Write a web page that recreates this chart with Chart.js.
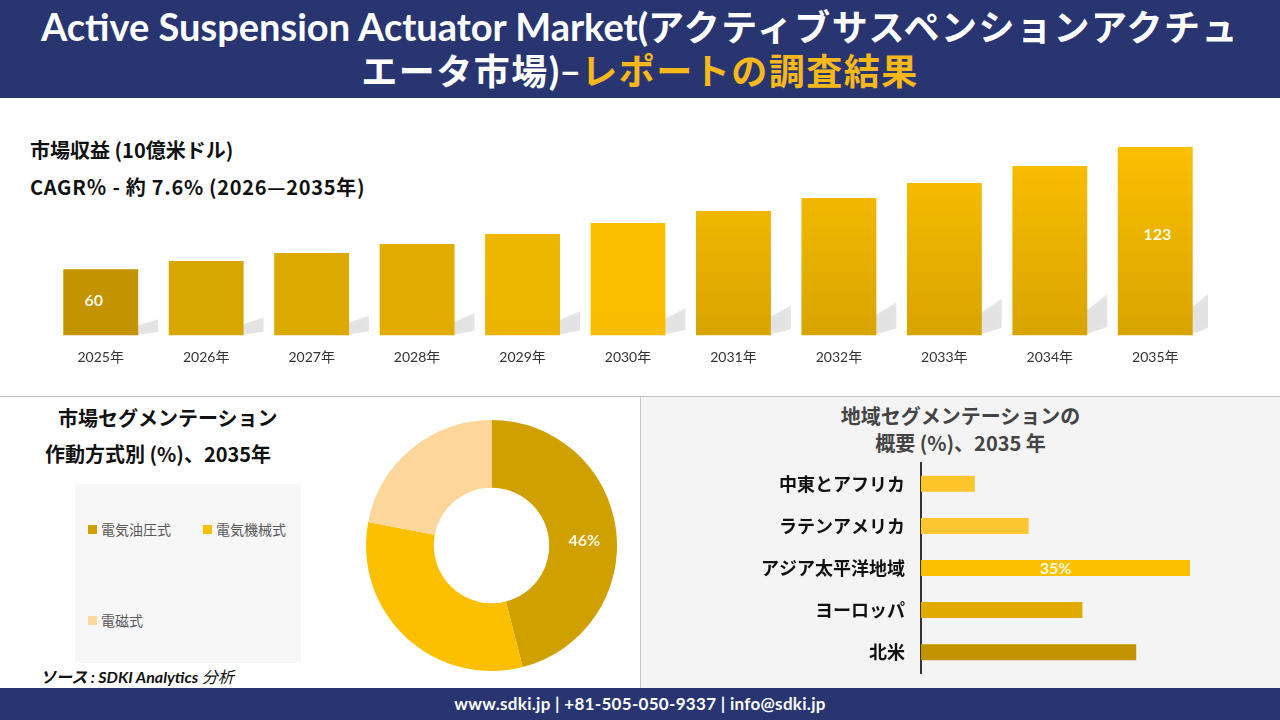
<!DOCTYPE html>
<html>
<head>
<meta charset="utf-8">
<script src="https://cdn.jsdelivr.net/npm/chart.js@4/dist/chart.umd.min.js"></script>
<style>
  body { margin: 0; width: 1280px; height: 720px; position: relative; overflow: hidden; background: #fff; font-family: Lato, 'Noto Sans CJK JP', sans-serif; }
  .abs { position: absolute; }
  #header { left: 0; top: 0; width: 1280px; height: 98px; background: #283571; color: #fff; text-align: center; font-weight: 700; font-size: 36px; line-height: 43px; padding-top: 5px; box-sizing: border-box; letter-spacing: 1.5px; }
  #header .lat { font-size: 38px; letter-spacing: 0; }
  #header .hl { color: #f6b81a; }
  #footer { left: 0; top: 688px; width: 1280px; height: 32px; background: #283571; color: #fff; text-align: center; font-weight: 700; font-size: 17px; letter-spacing: 0.3px; line-height: 32px; }
  .h1 { font-weight: 700; font-size: 20px; color: #111; font-family: 'Noto Sans CJK JP', sans-serif; }
  #sep { left: 0; top: 396px; width: 1280px; height: 1px; background: #bdbdbd; }
  #rpanel { left: 640px; top: 397px; width: 640px; height: 291px; background: #f4f4f4; border-left: 1px solid #c8c8c8; }
  #legendBox { left: 75px; top: 484px; width: 226px; height: 179px; background: #f7f7f7; }
  .lg { font-size: 14px; color: #595959; white-space: nowrap; }
  .lg span { display: inline-block; width: 9px; height: 9px; margin-right: 4px; vertical-align: 1px; }
</style>
</head>
<body>
<div id="header" class="abs"><span class="lat">Active Suspension Actuator Market(</span>アクティブサスペンションアクチュ<br>エータ市場<span class="lat">)–</span><span class="hl">レポートの調査結果</span></div>

<div class="abs h1" style="left:30px; top:135px;">市場収益 (10億米ドル)</div>
<div class="abs h1" style="left:30px; top:172px; letter-spacing:0.7px;">CAGR％ - 約 7.6% (2026—2035年)</div>

<div style="position:absolute; left:48px; top:140px; width:1160px; height:232px;"><canvas id="revenue"></canvas></div>

<div id="sep" class="abs"></div>
<div id="rpanel" class="abs"></div>

<div class="abs h1" style="left:58px; top:403px;">市場セグメンテーション</div>
<div class="abs h1" style="left:45px; top:439px;">作動方式別 (%)、2035年</div>
<div id="legendBox" class="abs"></div>
<div id="legendItems"></div>
<div style="position:absolute; left:366px; top:420px; width:251px; height:251px;"><canvas id="segment"></canvas></div>
<div class="abs" style="left:40px; top:664px; font-size:16px; font-style:italic; font-weight:700; color:#111;">ソース : SDKI Analytics <span style="font-weight:400">分析</span></div>

<div class="abs" style="left:641px; top:402px; width:639px; text-align:center; font-size:20px; font-weight:700; color:#444; line-height:27px; font-family:'Noto Sans CJK JP', sans-serif;">地域セグメンテーションの<br>概要 (%)、2035 年</div>
<div style="position:absolute; left:730px; top:444px; width:510px; height:248px;"><canvas id="region"></canvas></div>

<div id="footer" class="abs">www.sdki.jp | +81-505-050-9337 | info@sdki.jp</div>

<script>
// market revenue, USD billion
const years = ['2025年', '2026年', '2027年', '2028年', '2029年', '2030年', '2031年', '2032年', '2033年', '2034年', '2035年'];
const revenue = [60, 64.2, 68.3, 73, 78.1, 83.8, 90, 96.7, 104.5, 113.2, 123];
const revenueLabelled = [0, 10];

// segment by actuation type, 2035
const segmentNames = ['電気油圧式', '電気機械式', '電磁式'];
const segmentShare = [46, 32, 22];

// regional share, 2035
const regions = ['中東とアフリカ', 'ラテンアメリカ', 'アジア太平洋地域', 'ヨーロッパ', '北米'];
const regionShare = [7, 14, 35, 21, 28];

const barTop = ['#c39400', '#d8a600', '#dca900', '#e2ad00', '#f2b900', '#fdc000', '#fdc000', '#fdc000', '#fdc000', '#fdc000', '#fdc000'];
const barBottom = ['#c39400', '#d8a600', '#dca900', '#e2ad00', '#ecb400', '#f9bc00', '#d8a400', '#d8a400', '#d8a400', '#d8a400', '#d8a400'];
const segmentColors = ['#d09f00', '#fcc000', '#fdd69c'];
const regionColors = ['#fcc52a', '#fcc630', '#fcc000', '#e0aa00', '#c29300'];

const fontCJK = "Lato, 'Noto Sans CJK JP', sans-serif";

// soft shadow behind each revenue bar
const barShadow = {
  id: 'barShadow',
  beforeDatasetsDraw(chart) {
    const ctx = chart.ctx;
    const bottom = chart.chartArea.bottom;
    ctx.save();
    ctx.fillStyle = 'rgba(0,0,0,0.1)';
    ctx.shadowColor = 'rgba(0,0,0,0.18)';
    ctx.shadowBlur = 10;
    chart.getDatasetMeta(0).data.forEach(bar => {
      const right = bar.x + bar.width / 2;
      const s = (bottom - bar.y) * 0.24;
      const d = 20;
      ctx.beginPath();
      ctx.moveTo(right - 4, bottom);
      ctx.lineTo(right - 4, bottom - s * 0.55);
      ctx.lineTo(right + d, bottom - s);
      ctx.lineTo(right + d, bottom - s * 0.2);
      ctx.closePath();
      ctx.fill();
    });
    ctx.restore();
  }
};

const revenueLabels = {
  id: 'revenueLabels',
  afterDatasetsDraw(chart) {
    const ctx = chart.ctx;
    const meta = chart.getDatasetMeta(0);
    const bottom = chart.chartArea.bottom;
    ctx.save();
    ctx.fillStyle = '#fffbe6';
    ctx.font = "700 16px " + fontCJK;
    ctx.textAlign = 'center';
    ctx.textBaseline = 'middle';
    revenueLabelled.forEach(i => {
      const bar = meta.data[i];
      ctx.fillText(String(revenue[i]), bar.x - (i === 0 ? 7 : -2), (bar.y + bottom) / 2 - (i === 0 ? 1 : 6));
    });
    ctx.restore();
  }
};

new Chart(document.getElementById('revenue'), {
  type: 'bar',
  data: {
    labels: years,
    datasets: [{
      data: revenue,
      backgroundColor: (c) => {
        const area = c.chart.chartArea;
        if (!area) return barTop[c.dataIndex];
        const g = c.chart.ctx.createLinearGradient(0, area.top, 0, area.bottom);
        g.addColorStop(0, barTop[c.dataIndex]);
        g.addColorStop(1, barBottom[c.dataIndex]);
        return g;
      },
      borderWidth: 0,
      categoryPercentage: 1,
      barPercentage: 0.71
    }]
  },
  options: {
    responsive: true,
    maintainAspectRatio: false,
    animation: false,
    layout: { padding: 0 },
    plugins: { legend: { display: false }, tooltip: { enabled: false } },
    scales: {
      x: {
        grid: { display: false },
        border: { display: false },
        ticks: { color: '#333', font: { size: 14, family: fontCJK }, padding: 6 }
      },
      y: {
        display: false,
        min: 26,
        max: 126.6
      }
    }
  },
  plugins: [barShadow, revenueLabels]
});

// legend for the doughnut, built from the arrays
const legendPos = [[88, 519], [203, 519], [88, 610]];
document.getElementById('legendItems').innerHTML = segmentNames.map((n, i) =>
  `<div class="abs lg" style="left:${legendPos[i][0]}px; top:${legendPos[i][1]}px;"><span style="background:${segmentColors[i]}"></span>${n}</div>`
).join('');

const segmentLabel = {
  id: 'segmentLabel',
  afterDatasetsDraw(chart) {
    const ctx = chart.ctx;
    const arc = chart.getDatasetMeta(0).data[0];
    const mid = (arc.startAngle + arc.endAngle) / 2;
    const r = (arc.innerRadius + arc.outerRadius) / 2;
    ctx.save();
    ctx.fillStyle = '#fffbe6';
    ctx.font = "700 16px " + fontCJK;
    ctx.textAlign = 'center';
    ctx.textBaseline = 'middle';
    ctx.fillText(segmentShare[0] + '%', arc.x + Math.cos(mid) * r + 2, arc.y + Math.sin(mid) * r + 7);
    ctx.restore();
  }
};

new Chart(document.getElementById('segment'), {
  type: 'doughnut',
  data: {
    labels: segmentNames,
    datasets: [{ data: segmentShare, backgroundColor: segmentColors, borderWidth: 0, hoverOffset: 0 }]
  },
  options: {
    responsive: true,
    maintainAspectRatio: false,
    animation: false,
    cutout: '46%',
    layout: { padding: 0 },
    plugins: { legend: { display: false }, tooltip: { enabled: false } }
  },
  plugins: [segmentLabel]
});

const regionLabel = {
  id: 'regionLabel',
  afterDatasetsDraw(chart) {
    const ctx = chart.ctx;
    const bar = chart.getDatasetMeta(0).data[2];
    ctx.save();
    ctx.fillStyle = '#fffbe6';
    ctx.font = "700 16px " + fontCJK;
    ctx.textAlign = 'center';
    ctx.textBaseline = 'middle';
    ctx.fillText(regionShare[2] + '%', (bar.x + bar.base) / 2, bar.y + 1);
    ctx.restore();
  }
};

new Chart(document.getElementById('region'), {
  type: 'bar',
  data: {
    labels: regions,
    datasets: [{ data: regionShare, backgroundColor: regionColors, borderWidth: 0, categoryPercentage: 1, barPercentage: 0.38 }]
  },
  options: {
    indexAxis: 'y',
    responsive: true,
    maintainAspectRatio: false,
    animation: false,
    layout: { padding: 0 },
    plugins: { legend: { display: false }, tooltip: { enabled: false } },
    scales: {
      x: { display: false, min: 0, max: 41.5 },
      y: {
        afterFit(scale) { scale.width = 191; },
        grid: { display: false },
        border: { display: true, color: '#333', width: 2 },
        ticks: { color: '#111', font: { size: 18, weight: '700', family: "'Noto Sans CJK JP', sans-serif" }, padding: 8 }
      }
    }
  },
  plugins: [regionLabel]
});
</script>
</body>
</html>
